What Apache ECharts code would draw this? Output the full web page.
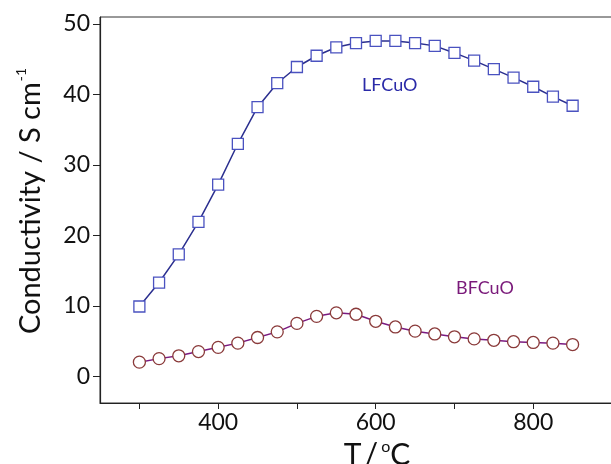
<!DOCTYPE html>
<html>
<head>
<meta charset="utf-8">
<script src="https://cdn.jsdelivr.net/npm/echarts@6/dist/echarts.min.js"></script>
<style>
  html, body { margin: 0; padding: 0; background: #fff; }
  #chart { width: 611px; height: 464px; }
</style>
</head>
<body>
<div id="chart"></div>
<script>
// temperatures (°C)
const temps = [300, 325, 350, 375, 400, 425, 450, 475, 500, 525, 550, 575,
  600, 625, 650, 675, 700, 725, 750, 775, 800, 825, 850]
const lfcuo = [9.9, 13.3, 17.3, 21.9, 27.2, 33.0, 38.2, 41.6, 43.9, 45.5, 46.7, 47.3,
  47.6, 47.6, 47.3, 46.9, 45.9, 44.8, 43.6, 42.4, 41.1, 39.7, 38.4]
const bfcuo = [2.0, 2.5, 2.9, 3.5, 4.1, 4.7, 5.5, 6.3, 7.5, 8.5, 9.0, 8.8,
  7.8, 7.0, 6.4, 6.0, 5.6, 5.3, 5.1, 4.9, 4.8, 4.7, 4.5]
const xTicks = [300, 400, 500, 600, 700, 800]
const xLabels = [400, 600, 800]
const yTicks = [0, 10, 20, 30, 40, 50]

const font = 'Lato, "Open Sans", sans-serif'
const chart = echarts.init(document.getElementById('chart'))

const option = {
  backgroundColor: '#fff',
  animation: false,
  grid: {
    left: 100, top: 17, right: -1, bottom: 61,
    outerBoundsMode: 'none',
    containLabel: false,
    show: true, borderColor: '#333', borderWidth: 1
  },
  xAxis: {
    type: 'value',
    min: 250,
    max: 900,
    name: 'T{s| }/{s| }{sup|o}C',
    nameLocation: 'middle',
    nameGap: 33,
    nameTextStyle: {
      color: '#111', fontSize: 30, fontFamily: font,
      padding: [0, 0, 0, 42],
      rich: {
        s: { fontSize: 12, fontFamily: font },
        sup: { fontSize: 16, verticalAlign: 'top', padding: [0, 0, 16, 0], fontFamily: font, color: '#111' }
      }
    },
    axisLine: { onZero: false, lineStyle: { color: '#222', width: 1.2 } },
    axisTick: { show: true, inside: false, length: 6, customValues: xTicks, lineStyle: { color: '#222' } },
    axisLabel: { customValues: xLabels, color: '#111', fontSize: 23, fontFamily: font, margin: 8 },
    splitLine: { show: false }
  },
  yAxis: {
    type: 'value',
    min: -3.8,
    max: 51,
    name: 'Conductivity / S cm{sup|-1}',
    nameLocation: 'middle',
    nameRotate: 90,
    nameGap: 52,
    nameTextStyle: {
      color: '#111', fontSize: 29, fontFamily: font,
      padding: [0, 0, 0, 18],
      rich: { sup: { fontSize: 14, verticalAlign: 'top', padding: [0, 0, 20, 1], fontFamily: font, color: '#111' } }
    },
    axisLine: { show: true, onZero: false, lineStyle: { color: '#222', width: 1.2 } },
    axisTick: { show: true, inside: false, length: 7, customValues: yTicks, lineStyle: { color: '#222' } },
    axisLabel: { customValues: yTicks, color: '#111', fontSize: 23, fontFamily: font, margin: 10 },
    splitLine: { show: false }
  },
  series: [
    {
      name: 'LFCuO',
      type: 'line',
      data: temps.map((t, i) => [t, lfcuo[i]]),
      symbol: 'rect',
      symbolSize: 11,
      lineStyle: { color: '#2b2f8f', width: 1.5 },
      itemStyle: { color: '#fff', borderColor: '#4a52c0', borderWidth: 1.3 },
      z: 3
    },
    {
      name: 'BFCuO',
      type: 'line',
      data: temps.map((t, i) => [t, bfcuo[i]]),
      symbol: 'circle',
      symbolSize: 12,
      lineStyle: { color: '#7a1a80', width: 1.5 },
      itemStyle: { color: '#fff', borderColor: '#8a3a3a', borderWidth: 1.3 },
      z: 3
    }
  ],
  graphic: [
    { type: 'text', left: 362, top: 76, style: { text: 'LFCuO', fill: '#2a2aa8', fontSize: 18, fontFamily: font } },
    { type: 'text', left: 456, top: 279, style: { text: 'BFCuO', fill: '#7a1a7a', fontSize: 18, fontFamily: font } }
  ]
}
chart.setOption(option)
</script>
</body>
</html>
